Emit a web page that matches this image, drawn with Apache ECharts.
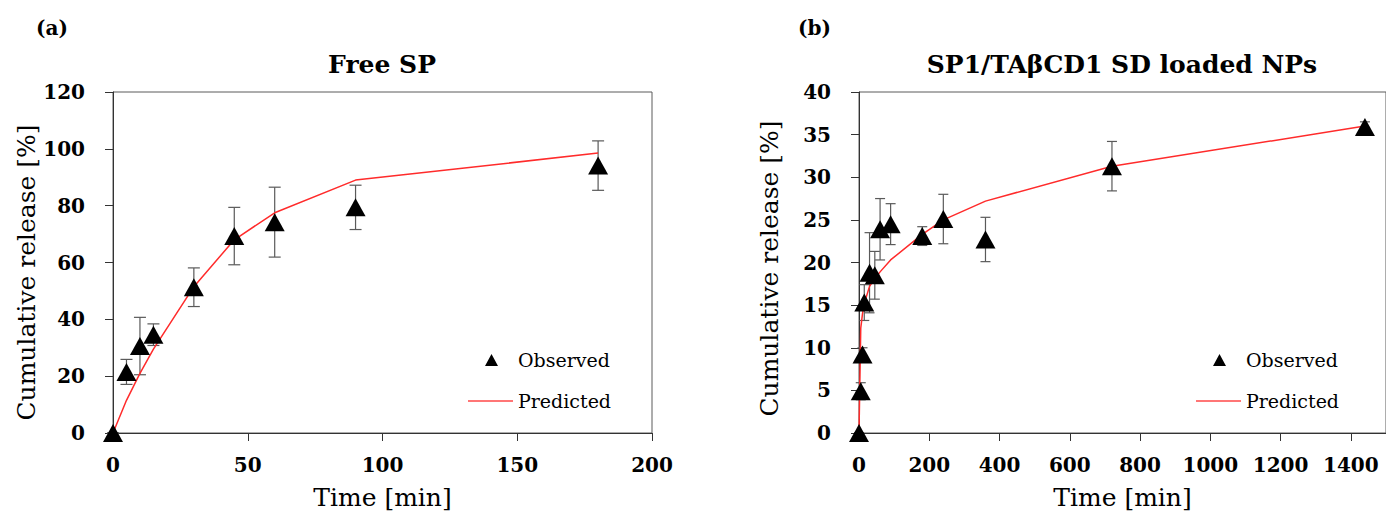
<!DOCTYPE html>
<html>
<head>
<meta charset="utf-8">
<script src="https://cdn.jsdelivr.net/npm/echarts@6/dist/echarts.min.js"></script>
<style>
  html, body { margin: 0; padding: 0; background: #fff; }
  #chart { width: 1386px; height: 517px; }
</style>
</head>
<body>
<div id="chart"></div>
<script>
// (a) Free SP
const timeA = [0, 5, 10, 15, 30, 45, 60, 90, 180]
const obsA = [0, 21.5, 30.6, 34.6, 51.3, 69.3, 74.2, 79.4, 94.1]
const sdA = [0, 4.4, 10.1, 3.8, 6.8, 10.1, 12.3, 7.8, 8.7]
const predA = [0, 11.5, 21, 29.5, 51.5, 68, 77.5, 89, 98.5]

// (b) SP1/TAβCD1 SD loaded NPs
const timeB = [0, 5, 10, 15, 30, 45, 60, 90, 180, 240, 360, 720, 1440]
const obsB = [0, 4.9, 9.2, 15.3, 18.8, 18.5, 23.9, 24.5, 23.1, 25.1, 22.7, 31.3, 35.9]
const sdB = [0, 1.0, 0.8, 2.1, 4.7, 2.8, 3.6, 2.4, 1.1, 2.9, 2.6, 2.9, 0.6]
const predB = [0, 12.3, 14.0, 15.2, 17.2, 18.1, 18.9, 20.3, 23.3, 25.0, 27.2, 31.3, 36.0]

const panelLabels = ['(a)', '(b)']
const panelTitles = ['Free SP', 'SP1/TAβCD1 SD loaded NPs']
const xName = 'Time [min]'
const yName = 'Cumulative release [%]'

const FONT = 'DejaVu Serif'
const pairs = (xs, ys) => xs.map((x, i) => [x, ys[i]])
const bars = (xs, ys, sd) => xs.map((x, i) => [x, ys[i] - sd[i], ys[i] + sd[i]])

// legend icons drawn inside a 45x14 box (tiny corner dots keep the box size)
const corners = 'M0,0h0.05v0.05h-0.05z M44.95,13.95h0.05v0.05h-0.05z '
const triIcon = 'path://' + corners + 'M23.5,1 L30,13 L17,13 Z'
const lineIcon = 'path://' + corners + 'M0,6.3 h45 v1.5 h-45 Z'

const errorBar = (capHalf) => (params, api) => {
  const x = api.value(0)
  const top = api.coord([x, api.value(2)])
  const bot = api.coord([x, api.value(1)])
  const style = { stroke: '#5a5a5a', lineWidth: 1.2 }
  return {
    type: 'group',
    children: [
      { type: 'line', shape: { x1: top[0], y1: top[1], x2: bot[0], y2: bot[1] }, style },
      { type: 'line', shape: { x1: top[0] - capHalf, y1: top[1], x2: top[0] + capHalf, y2: top[1] }, style },
      { type: 'line', shape: { x1: bot[0] - capHalf, y1: bot[1], x2: bot[0] + capHalf, y2: bot[1] }, style }
    ]
  }
}

const axisCommon = {
  type: 'value',
  splitLine: { show: false },
  axisLine: { show: true, lineStyle: { color: '#333', width: 1 } },
  axisTick: { show: true, length: 8, lineStyle: { color: '#333' } },
  axisLabel: { color: '#000', fontFamily: FONT, fontWeight: 'bold', fontSize: 20, formatter: (v) => String(v) },
  nameTextStyle: { color: '#000', fontFamily: FONT, fontSize: 25 }
}

const legendCommon = {
  top: 350, padding: 0, orient: 'vertical',
  itemWidth: 45, itemHeight: 14, itemGap: 21,
  textStyle: { fontFamily: FONT, fontSize: 19, color: '#000', lineHeight: 20 },
  data: [{ name: 'Observed', icon: triIcon }, { name: 'Predicted', icon: lineIcon }]
}

const chart = echarts.init(document.getElementById('chart'), null, { renderer: 'svg' })

chart.setOption({
  animation: false,
  title: [
    { text: panelLabels[0], left: 36, top: 18, padding: 0, textStyle: { fontFamily: FONT, fontWeight: 'bold', fontSize: 20, color: '#000' } },
    { text: panelLabels[1], left: 798, top: 18, padding: 0, textStyle: { fontFamily: FONT, fontWeight: 'bold', fontSize: 20, color: '#000' } },
    { text: panelTitles[0], left: 382, top: 52, padding: 0, textAlign: 'center', textStyle: { fontFamily: FONT, fontWeight: 'bold', fontSize: 25, color: '#000' } },
    { text: panelTitles[1], left: 1122, top: 52, padding: 0, textAlign: 'center', textStyle: { fontFamily: FONT, fontWeight: 'bold', fontSize: 25, color: '#000' } }
  ],
  legend: [
    Object.assign({}, legendCommon, { left: 468 }),
    Object.assign({}, legendCommon, { left: 1196 })
  ],
  grid: [
    { left: 113, top: 92, right: 734, bottom: 84, show: true, borderColor: '#5a5a5a', borderWidth: 1 },
    { left: 859, top: 92, right: -1, bottom: 84, show: true, borderColor: '#5a5a5a', borderWidth: 1 }
  ],
  xAxis: [
    Object.assign({}, axisCommon, {
      gridIndex: 0, min: 0, max: 200, interval: 50,
      name: xName, nameLocation: 'middle', nameGap: 52,
      axisLabel: Object.assign({}, axisCommon.axisLabel, { margin: 22 })
    }),
    Object.assign({}, axisCommon, {
      gridIndex: 1, min: 0, max: 1500, interval: 200,
      name: xName, nameLocation: 'middle', nameGap: 52,
      axisLabel: Object.assign({}, axisCommon.axisLabel, { margin: 22, showMaxLabel: false })
    })
  ],
  yAxis: [
    Object.assign({}, axisCommon, {
      gridIndex: 0, min: 0, max: 120, interval: 20,
      name: yName, nameLocation: 'middle', nameGap: 73,
      axisLabel: Object.assign({}, axisCommon.axisLabel, { margin: 28 }),
      nameTextStyle: Object.assign({}, axisCommon.nameTextStyle, { padding: [0, 20, 0, 0] })
    }),
    Object.assign({}, axisCommon, {
      gridIndex: 1, min: 0, max: 40, interval: 5,
      name: yName, nameLocation: 'middle', nameGap: 77,
      axisLabel: Object.assign({}, axisCommon.axisLabel, { margin: 28 }),
      nameTextStyle: Object.assign({}, axisCommon.nameTextStyle, { padding: [0, 12, 0, 0] })
    })
  ],
  series: [
    { type: 'custom', xAxisIndex: 0, yAxisIndex: 0, z: 1, renderItem: errorBar(6), data: bars(timeA, obsA, sdA), silent: true },
    { name: 'Predicted', type: 'line', xAxisIndex: 0, yAxisIndex: 0, z: 2, symbol: 'none',
      lineStyle: { color: '#ff2b2b', width: 1.5 }, itemStyle: { color: '#ff4a4a' }, data: pairs(timeA, predA) },
    { name: 'Observed', type: 'scatter', xAxisIndex: 0, yAxisIndex: 0, z: 3, clip: false,
      symbol: 'triangle', symbolSize: [20, 18], itemStyle: { color: '#000', opacity: 1 }, data: pairs(timeA, obsA) },

    { type: 'custom', xAxisIndex: 1, yAxisIndex: 1, z: 1, renderItem: errorBar(5), data: bars(timeB, obsB, sdB), silent: true },
    { name: 'Predicted', type: 'line', xAxisIndex: 1, yAxisIndex: 1, z: 2, symbol: 'none',
      lineStyle: { color: '#ff2b2b', width: 1.5 }, itemStyle: { color: '#ff4a4a' }, data: pairs(timeB, predB) },
    { name: 'Observed', type: 'scatter', xAxisIndex: 1, yAxisIndex: 1, z: 3, clip: false,
      symbol: 'triangle', symbolSize: [20, 18], itemStyle: { color: '#000', opacity: 1 }, data: pairs(timeB, obsB) }
  ]
})
</script>
</body>
</html>
